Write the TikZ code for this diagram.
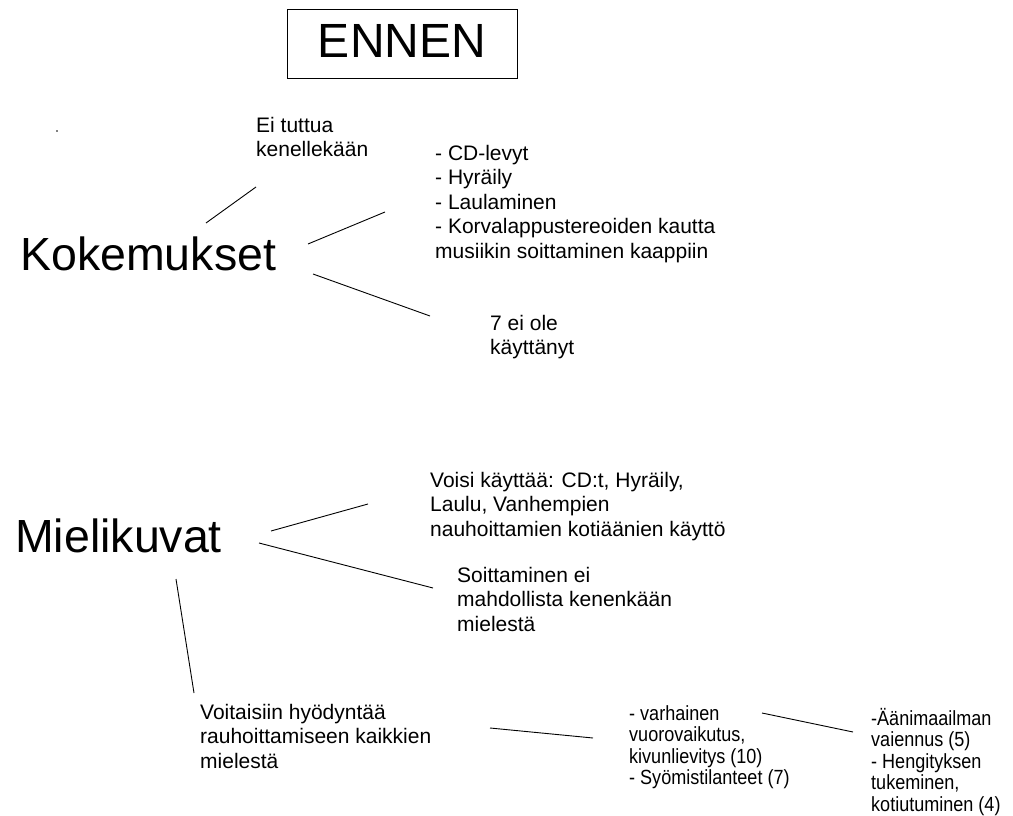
\documentclass[tikz,border=0pt]{standalone}
\usepackage{fontspec}
\setmainfont{Liberation Sans}
\newfontfamily\narrowsans[FakeStretch=0.88]{Liberation Sans}

\tikzset{
  big/.style={anchor=base west, inner sep=0pt, font=\fontsize{46.5}{50}\selectfont},
  txt/.style={anchor=base west, inner sep=0pt, align=left, font=\fontsize{21}{24.5}\selectfont},
  smalltxt/.style={anchor=base west, inner sep=0pt, align=left, font=\narrowsans\fontsize{20.5}{21.5}\selectfont},
  link/.style={line width=0.9pt}
}

\begin{document}
\begin{tikzpicture}[x=1pt, y=-1pt]
            \useasboundingbox (0,0) rectangle (1013,816);
            \node[draw, line width=1pt, minimum width=230pt, minimum height=69pt, text depth=7pt, inner sep=0pt, font=\fontsize{48}{50}\selectfont] (ennen) at (402,44.5) {ENNEN};
            \node[circle, fill, inner sep=0.6pt] (dot) at (57,131) {};
            \node[big] (kok) at (20,270) {Kokemukset};
            \node[txt] (tuttu) at (256,156.5) {Ei tuttua\\kenellekään};
            \node[txt] (keinot) at (435,258) {- CD-levyt\\- Hyräily\\- Laulaminen\\- Korvalappustereoiden kautta\\musiikin soittaminen kaappiin};
            \node[txt] (seitsem) at (490,354.5) {7 ei ole\\käyttänyt};
            \coordinate (k1) at (206,223); \coordinate (t1) at (256,187);
            \coordinate (k2) at (308,244); \coordinate (t2) at (385,212);
            \coordinate (k3) at (313,274); \coordinate (t3) at (430,316);
            \draw[link] (k1) -- (t1);
            \draw[link] (k2) -- (t2);
            \draw[link] (k3) -- (t3);
            \node[big] (miel) at (15,552) {Mielikuvat};
            \node[txt] (voisi) at (430,536) {Voisi käyttää: CD:t, Hyräily,\\Laulu, Vanhempien\\nauhoittamien kotiäänien käyttö};
            \node[txt] (soitto) at (457,631) {Soittaminen ei\\mahdollista kenenkään\\mielestä};
            \node[txt] (hyoty) at (200,768) {Voitaisiin hyödyntää\\rauhoittamiseen kaikkien\\mielestä};
            \node[smalltxt] (varh) at (629,784.5) {- varhainen\\vuorovaikutus,\\kivunlievitys (10)\\- Syömistilanteet (7)};
            \node[smalltxt] (aani) at (871,811) {-Äänimaailman\\vaiennus (5)\\- Hengityksen\\tukeminen,\\kotiutuminen (4)};
            \coordinate (m1) at (271,531); \coordinate (v1) at (368,504);
            \coordinate (m2) at (259,543); \coordinate (v2) at (433,588);
            \coordinate (m3) at (176,579); \coordinate (v3) at (194,693);
            \coordinate (h1) at (490,728); \coordinate (h2) at (593,738);
            \coordinate (r1) at (762,713); \coordinate (r2) at (853,732);
            \draw[link] (m1) -- (v1);
            \draw[link] (m2) -- (v2);
            \draw[link] (m3) -- (v3);
            \draw[link] (h1) -- (h2);
            \draw[link] (r1) -- (r2);
        \end{tikzpicture}
\end{document}
